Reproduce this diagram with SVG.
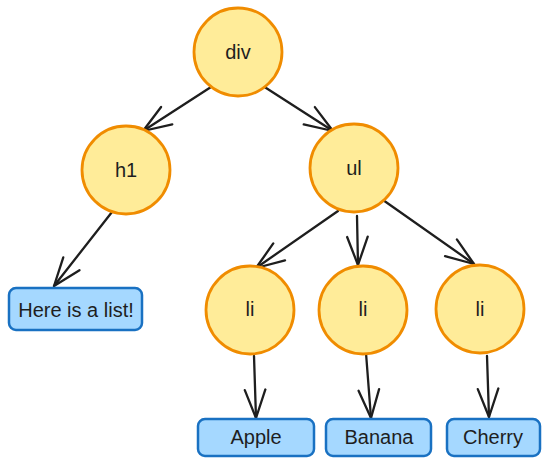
<svg xmlns="http://www.w3.org/2000/svg" width="550" height="465" viewBox="0 0 550 465">
  <style>
    .node circle { fill: #ffec99; stroke: #f08c00; stroke-width: 2.8; }
    .leaf rect { fill: #a5d8ff; stroke: #1971c2; stroke-width: 2.5; }
    text { font-family: "Liberation Sans", Arial, sans-serif; font-size: 20px; fill: #1e1e1e; text-anchor: middle; }
    .edges path { fill: none; stroke: #1e1e1e; stroke-width: 2.3; stroke-linecap: round; marker-end: url(#arrow); }
  </style>
  <defs>
    <marker id="arrow" markerUnits="userSpaceOnUse" viewBox="-32 -14 34 28" markerWidth="34" markerHeight="28" refX="0" refY="0" orient="auto">
      <path d="M-28.2,-10.3 L0,0 L-28.2,10.3" fill="none" stroke="#1e1e1e" stroke-width="2.3" stroke-linecap="round" stroke-linejoin="round"/>
    </marker>
  </defs>
  <rect width="550" height="465" fill="#ffffff"/>
  <g class="edges" id="connectors">
    <path d="M211,87 L143,131"/>
    <path d="M263,86 L333,131"/>
    <path d="M112,212 L54,286"/>
    <path d="M338,211 L256,268"/>
    <path d="M357,216 L358,265"/>
    <path d="M383,200 L474,264"/>
    <path d="M254,356 L256,418"/>
    <path d="M366,353 L371,418"/>
    <path d="M487,356 L489,417"/>
  </g>
  <g class="node" id="div"><circle cx="238" cy="52" r="44"/><text x="238" y="59">div</text></g>
  <g class="node" id="h1"><circle cx="126" cy="170" r="44"/><text x="126" y="177">h1</text></g>
  <g class="node" id="ul"><circle cx="354" cy="168" r="44"/><text x="354" y="175">ul</text></g>
  <g class="node" id="li1"><circle cx="250" cy="310" r="44"/><text x="250" y="316">li</text></g>
  <g class="node" id="li2"><circle cx="363" cy="310" r="44"/><text x="363" y="316">li</text></g>
  <g class="node" id="li3"><circle cx="480" cy="309" r="44"/><text x="480" y="316">li</text></g>
  <g class="leaf" id="list"><rect x="9" y="288" width="133" height="42" rx="7"/><text x="76" y="317">Here is a list!</text></g>
  <g class="leaf" id="apple"><rect x="198" y="419" width="116" height="37" rx="7"/><text x="256" y="444">Apple</text></g>
  <g class="leaf" id="banana"><rect x="326" y="419" width="105" height="37" rx="7"/><text x="379" y="444">Banana</text></g>
  <g class="leaf" id="cherry"><rect x="447" y="419" width="93" height="37" rx="7"/><text x="493" y="444">Cherry</text></g>
</svg>
